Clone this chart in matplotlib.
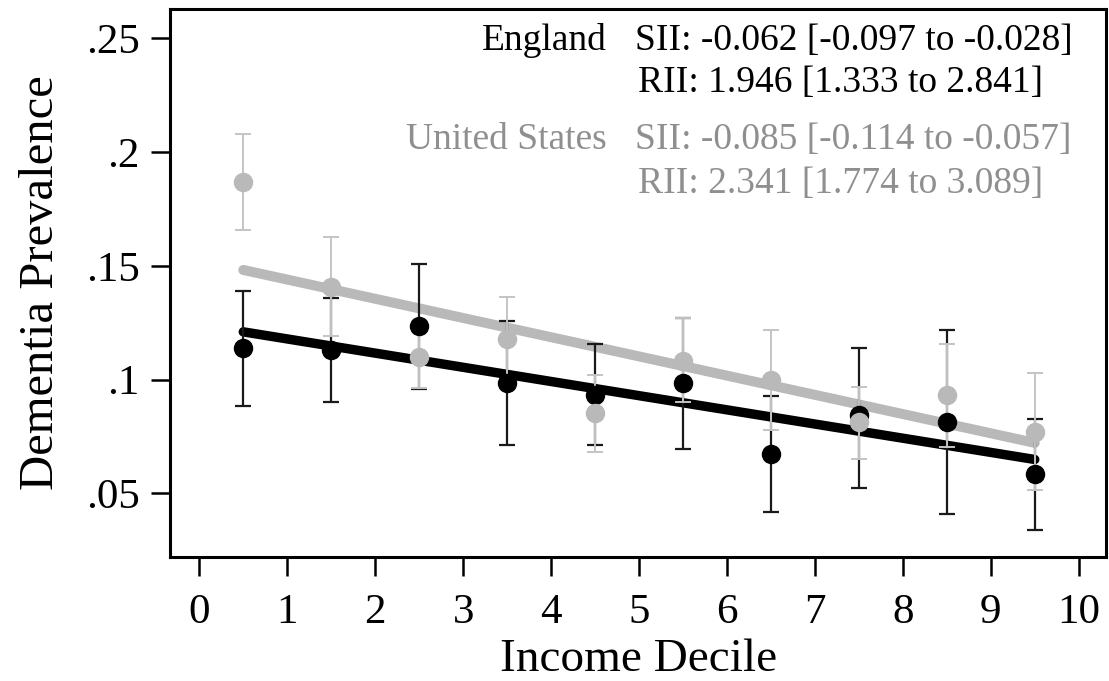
import matplotlib
matplotlib.use("Agg")
import matplotlib.pyplot as plt
import numpy as np

plt.rcParams['font.family'] = ['Liberation Serif', 'DejaVu Serif']

# income decile midpoints
deciles = [0.5, 1.5, 2.5, 3.5, 4.5, 5.5, 6.5, 7.5, 8.5, 9.5]

# England: prevalence and 95% CI
eng_prev = [0.1137, 0.1130, 0.1237, 0.0983, 0.0932, 0.0983, 0.0675, 0.0844, 0.0814, 0.0584]
eng_lo = [0.0885, 0.0900, 0.0960, 0.0712, 0.0712, 0.0693, 0.0419, 0.0524, 0.0408, 0.0341]
eng_hi = [0.1390, 0.1360, 0.1509, 0.1259, 0.1156, 0.1270, 0.0927, 0.1137, 0.1218, 0.0826]

# United States: prevalence and 95% CI
us_prev = [0.1867, 0.1408, 0.1100, 0.1177, 0.0854, 0.1081, 0.0998, 0.0814, 0.0932, 0.0770]
us_lo = [0.1657, 0.1190, 0.0961, 0.0990, 0.0682, 0.0903, 0.0778, 0.0653, 0.0704, 0.0514]
us_hi = [0.2080, 0.1628, 0.1240, 0.1364, 0.1020, 0.1269, 0.1218, 0.0968, 0.1155, 0.1027]

# fitted regression lines (end points)
fit_x = [0.5, 9.5]
eng_fit = [0.1210, 0.0649]
us_fit = [0.1482, 0.0722]

yticks = [0.05, 0.10, 0.15, 0.20, 0.25]
ytick_labels = ['.05', '.1', '.15', '.2', '.25']
xticks = list(range(11))

eng_txt = ['England', 'SII: -0.062 [-0.097 to -0.028]', 'RII: 1.946 [1.333 to 2.841]']
us_txt = ['United States', 'SII: -0.085 [-0.114 to -0.057]', 'RII: 2.341 [1.774 to 3.089]']

GRAY = '#b9b9b9'
GRAY_TXT = '#8f8f8f'

fig = plt.figure(figsize=(11.09, 6.81), dpi=100)
ax = fig.add_axes([0.1533, 0.1816, 0.8444, 0.8059])

ax.plot(fit_x, eng_fit, color='black', lw=6.8, solid_capstyle='round', zorder=1)
ax.plot(fit_x, us_fit, color=GRAY, lw=7.2, solid_capstyle='round', zorder=1.5)

def yerr(prev, lo, hi):
    p = np.array(prev)
    return [p - np.array(lo), np.array(hi) - p]

ax.errorbar(deciles, eng_prev, yerr=yerr(eng_prev, eng_lo, eng_hi), fmt='none',
            ecolor='#1a1a1a', elinewidth=1.6, capsize=5.5, capthick=1.6, zorder=2)
ax.errorbar(deciles, us_prev, yerr=yerr(us_prev, us_lo, us_hi), fmt='none',
            ecolor='#c4c4c4', elinewidth=1.4, capsize=5.5, capthick=1.4, zorder=2.5)
ax.plot(deciles, eng_prev, 'o', color='black', ms=13, zorder=3)
ax.plot(deciles, us_prev, 'o', color=GRAY, ms=13, zorder=3.5)

ax.set_xlim(-0.333, 10.315)
ax.set_ylim(0.0219, 0.2631)
ax.set_xticks(xticks)
ax.set_yticks(yticks)
ax.set_yticklabels(ytick_labels)
ax.tick_params(axis='both', labelsize=31, width=1.8, length=14, direction='out')
ax.tick_params(axis='x', pad=12)
ax.tick_params(axis='y', pad=8)
for s in ax.spines.values():
    s.set_linewidth(2.2)

ax.set_xlabel('Income Decile', fontsize=34, labelpad=5)
ax.set_ylabel('Dementia Prevalence', fontsize=35, labelpad=16)

# annotation block (axes fraction)
xn, xs, xr = 0.4666, 0.4965, 0.4997
ax.text(xn, 0.924, eng_txt[0], transform=ax.transAxes, ha='right', va='baseline', fontsize=27)
ax.text(xs, 0.924, eng_txt[1], transform=ax.transAxes, ha='left', va='baseline', fontsize=27)
ax.text(xr, 0.848, eng_txt[2], transform=ax.transAxes, ha='left', va='baseline', fontsize=27)
ax.text(xn, 0.744, us_txt[0], transform=ax.transAxes, ha='right', va='baseline', fontsize=27, color=GRAY_TXT)
ax.text(xs, 0.744, us_txt[1], transform=ax.transAxes, ha='left', va='baseline', fontsize=27, color=GRAY_TXT)
ax.text(xr, 0.664, us_txt[2], transform=ax.transAxes, ha='left', va='baseline', fontsize=27, color=GRAY_TXT)

fig.savefig('out.png', dpi=100)
